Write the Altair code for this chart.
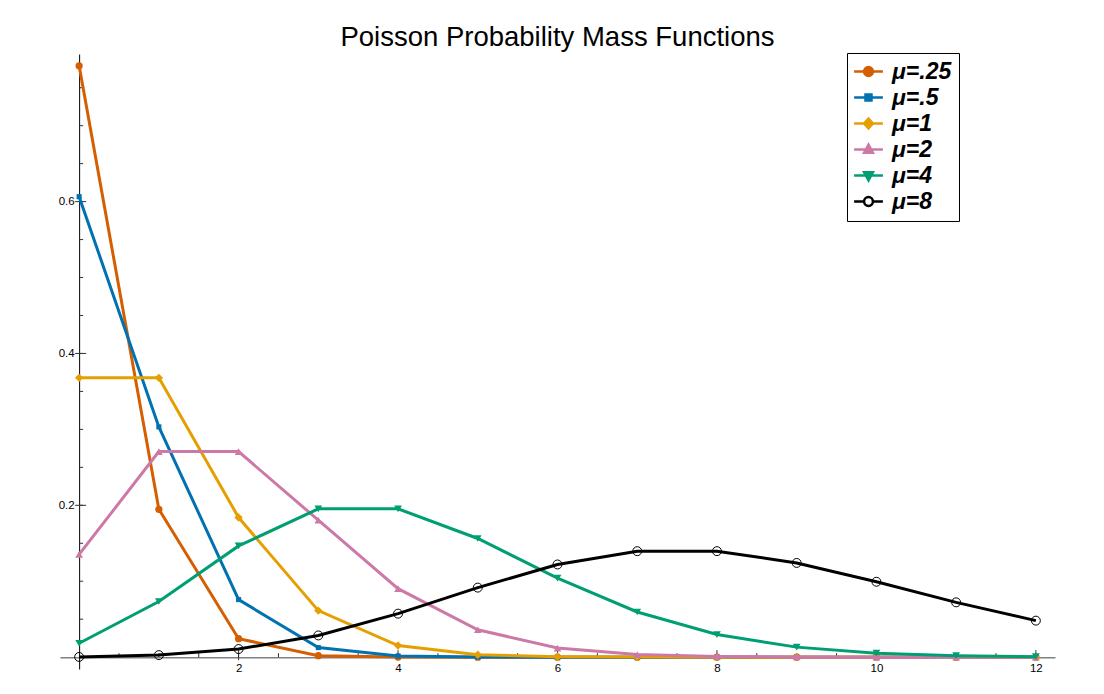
import altair as alt
import pandas as pd

# ---------------- data ----------------
k_values = [0, 1, 2, 3, 4, 5, 6, 7, 8, 9, 10, 11, 12]
series_labels = ["μ=.25", "μ=.5", "μ=1", "μ=2", "μ=4", "μ=8"]
p_mu_025 = [0.7788, 0.1947, 0.0243, 0.0020, 0.0001, 0.0, 0.0, 0.0, 0.0, 0.0, 0.0, 0.0, 0.0]
p_mu_05 = [0.6065, 0.3033, 0.0758, 0.0126, 0.0016, 0.0002, 0.0, 0.0, 0.0, 0.0, 0.0, 0.0, 0.0]
p_mu_1 = [0.3679, 0.3679, 0.1839, 0.0613, 0.0153, 0.0031, 0.0005, 0.0001, 0.0, 0.0, 0.0, 0.0, 0.0]
p_mu_2 = [0.1353, 0.2707, 0.2707, 0.1804, 0.0902, 0.0361, 0.0120, 0.0034, 0.0009, 0.0002, 0.0, 0.0, 0.0]
p_mu_4 = [0.0183, 0.0733, 0.1465, 0.1954, 0.1954, 0.1563, 0.1042, 0.0595, 0.0298, 0.0132, 0.0053, 0.0019, 0.0006]
p_mu_8 = [0.0003, 0.0027, 0.0107, 0.0286, 0.0573, 0.0916, 0.1221, 0.1396, 0.1396, 0.1241, 0.0993, 0.0722, 0.0481]
x_tick_labels = [2, 4, 6, 8, 10, 12]
y_tick_labels = [0.2, 0.4, 0.6]
x_minor_ticks = [0.5, 1, 1.5, 2, 2.5, 3, 3.5, 4, 4.5, 5, 5.5, 6, 6.5, 7, 7.5, 8, 8.5, 9, 9.5, 10, 10.5, 11, 11.5, 12]
y_minor_ticks = [0.05, 0.1, 0.15, 0.2, 0.25, 0.3, 0.35, 0.4, 0.45, 0.5, 0.55, 0.6, 0.65, 0.7, 0.75]
title_text = "Poisson Probability Mass Functions"

# ---------------- styles ----------------
colors = ["#D55E00", "#0072B2", "#E69F00", "#CC79A7", "#009E73", "#000000"]
legend_fills = ["#D55E00", "#0072B2", "#E69F00", "#CC79A7", "#009E73", "#FFFFFF"]
marker_shapes = ["circle", "square", "diamond", "triangle-up", "triangle-down", "circle"]
marker_sizes = [52, 26, 70, 60, 60, 80]
legend_paths = [
    "M-3.6,0H3.6M1.1,0A1.1,1.1,0,1,1,-1.1,0A1.1,1.1,0,1,1,1.1,0Z",
    "M-3.6,0H3.6M-0.75,-0.75H0.75V0.75H-0.75Z",
    "M-3.6,0H3.6M0,-1.2L1.1,0L0,1.2L-1.1,0Z",
    "M-3.6,0H3.6M0,-1.2L1.1,0.8L-1.1,0.8Z",
    "M-3.6,0H3.6M0,1.2L1.1,-0.8L-1.1,-0.8Z",
    "M-3.6,0H-1.1M1.1,0H3.6M1.1,0A1.1,1.1,0,1,1,-1.1,0A1.1,1.1,0,1,1,1.1,0Z",
]
FONT = "Liberation Sans"

W, H = 995, 615
X_DOMAIN = [-0.24, 12.24]
Y_DOMAIN = [-0.0156, 0.7944]
px_x = W / (X_DOMAIN[1] - X_DOMAIN[0])
px_y = H / (Y_DOMAIN[1] - Y_DOMAIN[0])

# ---------------- tables ----------------
all_p = [p_mu_025, p_mu_05, p_mu_1, p_mu_2, p_mu_4, p_mu_8]
rows = []
for lab, ps in zip(series_labels, all_p):
    for k, p in zip(k_values, ps):
        rows.append({"series": lab, "k": k, "p": p})
df = pd.DataFrame(rows)

xt_rows = [{"tx": t, "y0": 0.0, "y1": 4 / px_y} for t in x_minor_ticks]
xt_rows += [{"tx": t, "y0": -3 / px_y, "y1": 7 / px_y} for t in x_tick_labels]
xt = pd.DataFrame(xt_rows)
yt_rows = [{"ty": t, "x0": 0.0, "x1": 4 / px_x} for t in y_minor_ticks]
yt_rows += [{"ty": t, "x0": -4 / px_x, "x1": 7 / px_x} for t in y_tick_labels]
yt = pd.DataFrame(yt_rows)

leg_df = pd.DataFrame({"series": series_labels, "lx": [100] * 6, "ly": [100] * 6})

xs = alt.Scale(domain=X_DOMAIN, nice=False, zero=False)
ys = alt.Scale(domain=Y_DOMAIN, nice=False, zero=False)

x_axis = alt.Axis(values=x_tick_labels, format="d", ticks=False, grid=False, title=None,
                  domainColor="#808080", domainWidth=1.5, labelFont=FONT, labelFontSize=11.5,
                  labelColor="black", labelPadding=5, labelFlush=False,
                  offset=-(0 - Y_DOMAIN[0]) * px_y, zindex=0)
y_axis = alt.Axis(values=y_tick_labels, format=".1f", ticks=False, grid=False, title=None,
                  domainColor="black", domainWidth=1, labelFont=FONT, labelFontSize=11.5,
                  labelColor="black", labelPadding=5, labelFlush=False,
                  offset=-(0 - X_DOMAIN[0]) * px_x, zindex=0)

# ---------------- layers ----------------
xticks = alt.Chart(xt).mark_rule(color="#333333", strokeWidth=1).encode(
    x=alt.X("tx:Q", scale=xs, axis=x_axis),
    y=alt.Y("y0:Q", scale=ys, axis=y_axis),
    y2="y1:Q")
yticks = alt.Chart(yt).mark_rule(color="#333333", strokeWidth=1).encode(
    y=alt.Y("ty:Q", scale=ys, axis=y_axis),
    x=alt.X("x0:Q", scale=xs, axis=x_axis),
    x2="x1:Q")

series_layers = []
for i, lab in enumerate(series_labels):
    base = alt.Chart(df).transform_filter(alt.datum.series == lab)
    enc = dict(x=alt.X("k:Q", scale=xs, axis=x_axis), y=alt.Y("p:Q", scale=ys, axis=y_axis))
    series_layers.append(base.mark_line(strokeWidth=3, color=colors[i]).encode(**enc))
    if i == 5:
        mk = base.mark_point(shape=marker_shapes[i], size=marker_sizes[i], filled=False,
                             color=colors[i], strokeWidth=1, opacity=1)
    else:
        mk = base.mark_point(shape=marker_shapes[i], size=marker_sizes[i], filled=True,
                             color=colors[i], opacity=1)
    series_layers.append(mk.encode(**enc))

leg = alt.Legend(title=None, orient="none", legendX=787, legendY=-1,
                 strokeColor="black", fillColor="white", padding=7,
                 symbolSize=64, symbolStrokeWidth=2.5, symbolOffset=3, symbolOpacity=1,
                 labelOffset=12, labelFont=FONT, labelFontSize=23, labelFontStyle="italic",
                 labelFontWeight="bold", labelColor="black", rowPadding=2)

legend_layer = alt.Chart(leg_df).mark_point(filled=True, opacity=1, strokeWidth=2.5, clip=True).encode(
    x=alt.X("lx:Q", scale=xs, axis=x_axis),
    y=alt.Y("ly:Q", scale=ys, axis=y_axis),
    fill=alt.Fill("series:N", scale=alt.Scale(domain=series_labels, range=legend_fills), legend=leg),
    stroke=alt.Stroke("series:N", scale=alt.Scale(domain=series_labels, range=colors), legend=leg),
    shape=alt.Shape("series:N", scale=alt.Scale(domain=series_labels, range=legend_paths), legend=leg),
)

chart = alt.layer(xticks, yticks, *series_layers, legend_layer).properties(
    width=W, height=H,
    autosize=alt.AutoSizeParams(type="none"),
    padding={"left": 52, "top": 46, "right": 41, "bottom": 17},
    title=alt.Title(title_text, font=FONT, fontSize=27.5, fontWeight="normal", color="black",
                    anchor="middle", frame="group", offset=7, baseline="alphabetic", dy=28),
    background="white",
).configure_view(stroke=None)

chart.save("out.html", embed_options={"renderer": "svg", "actions": False})
